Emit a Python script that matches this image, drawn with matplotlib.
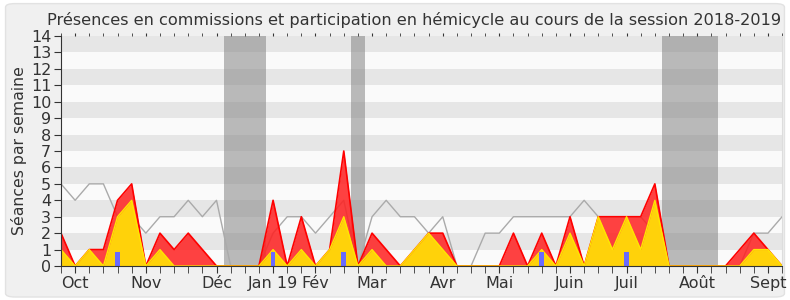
import numpy as np
import matplotlib.pyplot as plt
from matplotlib.patches import FancyBboxPatch

# weekly values, session 2018-2019 (52 weeks)
commissions = [2, 0, 1, 1, 4, 5, 0, 2, 1, 2, 1, 0, 0, 0, 0, 4, 0, 3, 0, 1,
               7, 0, 2, 1, 0, 1, 2, 2, 0, 0, 0, 0, 2, 0, 2, 0, 3, 0, 3, 3,
               3, 3, 5, 0, 0, 0, 0, 0, 1, 2, 1, 0]
hemicycle = [1, 0, 1, 0, 3, 4, 0, 1, 0, 0, 0, 0, 0, 0, 0, 1, 0, 1, 0, 1,
             3, 0, 1, 0, 0, 1, 2, 1, 0, 0, 0, 0, 0, 0, 1, 0, 2, 0, 3, 1,
             3, 1, 4, 0, 0, 0, 0, 0, 0, 1, 1, 0]
total = [5, 4, 5, 5, 3, 3, 2, 3, 3, 4, 3, 4, 0, 0, 0, 2, 3, 3, 2, 3,
         4, 0, 3, 4, 3, 3, 2, 3, 0, 0, 2, 2, 3, 3, 3, 3, 3, 4, 3, 3,
         3, 3, 2, 0, 0, 0, 0, 0, 0, 2, 2, 3]
question_weeks = [4, 15, 20, 34, 40]
question_vals = [0.85, 0.85, 0.85, 0.85, 0.85]
vacances = [(11.5, 14.5), (20.5, 21.5), (42.5, 46.5)]
mois = ["Oct", "Nov", "Déc", "Jan 19", "Fév", "Mar", "Avr", "Mai", "Juin", "Juil", "Août", "Sept"]
mois_pos = [1, 6, 11, 15, 18, 22, 27, 31, 36, 40, 45, 50]

weeks = np.arange(len(commissions))

fig = plt.figure(figsize=(7.9, 3.0), dpi=100)
fig.patch.set_facecolor("white")
cadre = FancyBboxPatch((0.007, 0.01), 0.986, 0.978, boxstyle="round,pad=0,rounding_size=0.012",
                       transform=fig.transFigure, facecolor="#f0f0f0", edgecolor="#e2e2e2", lw=1, zorder=-10)
fig.add_artist(cadre)
ax = fig.add_axes([0.0772, 0.1133, 0.9128, 0.7667])
ax.set_facecolor("#fafafa")

# bandes alternees
for k in range(1, 14, 2):
    ax.axhspan(k, k + 1, color="#e6e6e6", lw=0, zorder=0)
for a, b in vacances:
    ax.axvspan(a, b, color="#8a8a8a", alpha=0.58, lw=0, zorder=1)

ax.plot(weeks, total, color="#aaaaaa", lw=1, zorder=2)
ax.fill_between(weeks, commissions, color="#ff2020", alpha=0.85, lw=0, zorder=3)
ax.plot(weeks, commissions, color="#ff0000", lw=1.2, zorder=4)
ax.fill_between(weeks, hemicycle, color="#ffd20a", lw=0, zorder=5)
ax.plot(weeks, hemicycle, color="#ffe600", lw=1, zorder=6)
ax.bar(question_weeks, question_vals, width=0.33, color="#6a6aff", zorder=7)

ax.set_xlim(0, 51)
ax.set_ylim(0, 14)
ax.set_yticks(range(15))
ax.tick_params(axis="y", labelsize=11.5, length=5, color="#333333", labelcolor="#333333", pad=2)
ax.set_xticks(weeks, minor=True)
ax.set_xticks(mois_pos)
ax.set_xticklabels(mois)
ax.tick_params(axis="x", which="both", length=5, color="#333333", labelsize=11.5, labelcolor="#333333", pad=2,
               top=True, direction="out")
# petits points en haut
for tl in ax.xaxis.get_majorticklines()[1::2] + ax.xaxis.get_minorticklines()[1::2]:
    tl.set_markersize(2)
    tl.set_color("#555555")

ax.spines["top"].set_visible(False)
ax.spines["right"].set_color("#dddddd")
ax.spines["left"].set_color("#333333")
ax.spines["bottom"].set_color("#333333")
for s in ax.spines.values():
    s.set_zorder(8)

ax.set_ylabel("Séances par semaine", fontsize=11.3, color="#333333", labelpad=3)
ax.set_title("Présences en commissions et participation en hémicycle au cours de la session 2018-2019",
             fontsize=11.6, color="#333333", pad=8, x=0.49)

fig.savefig("out.png", dpi=100, facecolor=fig.get_facecolor())
